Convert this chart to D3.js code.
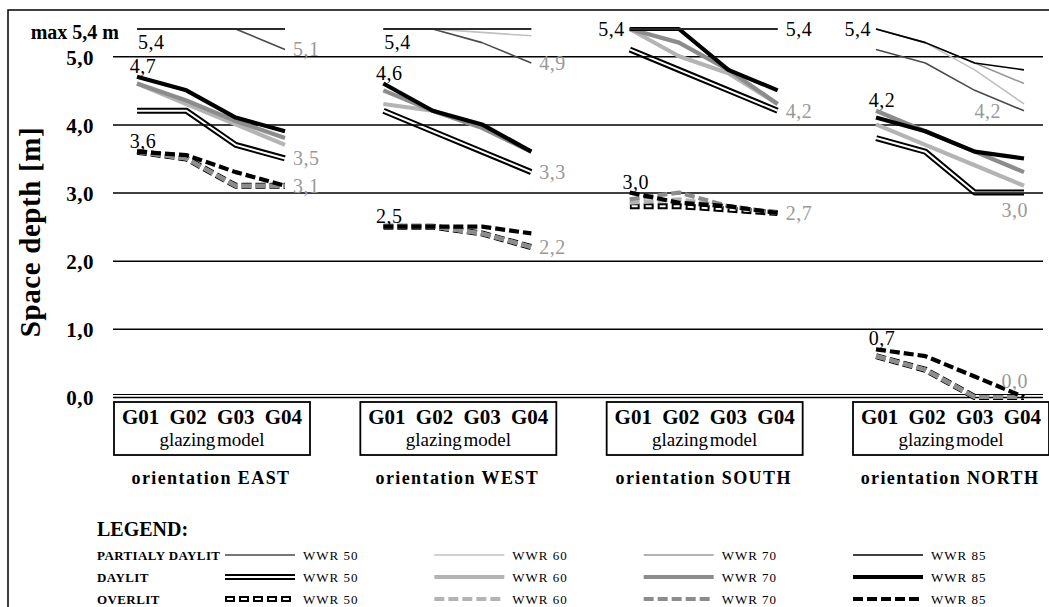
<!DOCTYPE html>
<html>
<head>
<meta charset="utf-8">
<script src="https://cdn.jsdelivr.net/npm/d3@7"></script>
<style>
  body { margin: 0; background: #fff; }
  svg text { font-family: "Liberation Serif", "DejaVu Serif", serif; }
</style>
</head>
<body>
<svg width="1049" height="607"></svg>
<script>
var glazing = ["G01", "G02", "G03", "G04"];
var orientations = ["EAST", "WEST", "SOUTH", "NORTH"];
var wwr = ["50", "60", "70", "85"];
var categories = ["PARTIALY DAYLIT", "DAYLIT", "OVERLIT"];
var yTicks = [0, 1, 2, 3, 4, 5];

// each array: rows = WWR 50, 60, 70, 85 ; columns = G01..G04
var eastPartial = [[5.4, 5.4, 5.4, 5.1], [5.4, 5.4, 5.4, 5.4], [5.4, 5.4, 5.4, 5.4], [5.4, 5.4, 5.4, 5.4]];
var eastDaylit  = [[4.2, 4.2, 3.7, 3.5], [4.6, 4.3, 4.0, 3.7], [4.6, 4.35, 4.05, 3.8], [4.7, 4.5, 4.1, 3.9]];
var eastOver    = [[3.6, 3.5, 3.1, 3.1], [3.6, 3.5, 3.1, 3.1], [3.6, 3.5, 3.1, 3.1], [3.6, 3.55, 3.3, 3.1]];

var westPartial = [[5.4, 5.4, 5.2, 4.9], [5.4, 5.4, 5.35, 5.3], [5.4, 5.4, 5.4, 5.4], [5.4, 5.4, 5.4, 5.4]];
var westDaylit  = [[4.2, 3.9, 3.6, 3.3], [4.3, 4.2, 3.95, 3.6], [4.5, 4.2, 3.95, 3.6], [4.6, 4.2, 4.0, 3.6]];
var westOver    = [[2.5, 2.5, 2.4, 2.2], [2.5, 2.5, 2.4, 2.2], [2.5, 2.5, 2.4, 2.2], [2.5, 2.5, 2.5, 2.4]];

var southPartial = [[5.4, 5.4, 5.4, 5.4], [5.4, 5.4, 5.4, 5.4], [5.4, 5.4, 5.4, 5.4], [5.4, 5.4, 5.4, 5.4]];
var southDaylit  = [[5.1, 4.8, 4.5, 4.2], [5.4, 5.0, 4.75, 4.3], [5.4, 5.2, 4.8, 4.3], [5.4, 5.4, 4.8, 4.5]];
var southOver    = [[2.8, 2.8, 2.75, 2.7], [2.85, 2.9, 2.8, 2.7], [2.9, 3.0, 2.8, 2.7], [3.0, 2.85, 2.8, 2.7]];

var northPartial = [[5.1, 4.9, 4.5, 4.2], [5.4, 5.2, 4.8, 4.3], [5.4, 5.2, 4.9, 4.6], [5.4, 5.2, 4.9, 4.8]];
var northDaylit  = [[3.8, 3.6, 3.0, 3.0], [4.0, 3.7, 3.4, 3.1], [4.2, 3.9, 3.6, 3.3], [4.1, 3.9, 3.6, 3.5]];
var northOver    = [[0.6, 0.4, 0.0, 0.0], [0.6, 0.4, 0.0, 0.0], [0.6, 0.4, 0.0, 0.0], [0.7, 0.6, 0.3, 0.0]];

// value labels: pos says where the number sits next to its line
var eastLabels  = [{v: 5.4, pos: "below", dark: true}, {v: 4.7, pos: "above", dark: true}, {v: 3.6, pos: "above", dark: true},
                   {v: 5.1, pos: "right"}, {v: 3.5, pos: "right"}, {v: 3.1, pos: "right"}];
var westLabels  = [{v: 5.4, pos: "below", dark: true}, {v: 4.6, pos: "above", dark: true}, {v: 2.5, pos: "above", dark: true},
                   {v: 4.9, pos: "right"}, {v: 3.3, pos: "right"}, {v: 2.2, pos: "right"}];
var southLabels = [{v: 5.4, pos: "left", dark: true}, {v: 3.0, pos: "above", dark: true},
                   {v: 5.4, pos: "right", dark: true}, {v: 4.2, pos: "right"}, {v: 2.7, pos: "right"}];
var northLabels = [{v: 5.4, pos: "left", dark: true}, {v: 4.2, pos: "above", dark: true}, {v: 0.7, pos: "above", dark: true},
                   {v: 4.2, pos: "inner"}, {v: 3.0, pos: "under"}, {v: 0.0, pos: "over"}];

var panels = [
  {name: "EAST",  series: [eastPartial, eastDaylit, eastOver],    labels: eastLabels},
  {name: "WEST",  series: [westPartial, westDaylit, westOver],    labels: westLabels},
  {name: "SOUTH", series: [southPartial, southDaylit, southOver], labels: southLabels},
  {name: "NORTH", series: [northPartial, northDaylit, northOver], labels: northLabels}
];

var grays = {"50": "#505050", "60": "#b4b4b4", "70": "#8c8c8c", "85": "#000"};
var grayThin = {"50": "#4a4a4a", "60": "#c0c0c0", "70": "#999", "85": "#000"};
var serif = "Liberation Serif";

var comma = function(v){ return d3.format(".1f")(v).replace(".", ","); };

var svg = d3.select("svg");
var defs = svg.append("defs");
var maskId = 0;

// frame
svg.append("rect")
  .attr("x", 8).attr("y", 10).attr("width", 1100).attr("height", 700)
  .attr("fill", "none").attr("stroke", "#000").attr("stroke-width", 1.5);

var y = d3.scaleLinear().domain([0, 5.4]).range([397, 29]);
var panelX = d3.scalePoint().domain(orientations).range([137, 876]);
var inner = d3.scalePoint().domain(glazing).range([0, 148]);

var gridLeft = 113, gridRight = 1043;

var yAxis = d3.axisLeft(y)
  .tickValues(yTicks)
  .tickSize(-(gridRight - gridLeft))
  .tickPadding(19)
  .tickFormat(comma);

var axisG = svg.append("g")
  .attr("transform", "translate(" + gridLeft + ",0)")
  .call(yAxis)
  .attr("font-family", serif);
axisG.select(".domain").remove();
axisG.selectAll(".tick line").attr("stroke", "#000").attr("stroke-width", 1.5);
// double line on the zero baseline
axisG.selectAll(".tick").filter(function(d){ return d === 0; })
  .append("line").attr("x2", gridRight - gridLeft).attr("y1", -3).attr("y2", -3)
  .attr("stroke", "#000").attr("stroke-width", 1.2);
axisG.selectAll(".tick text")
  .attr("fill", "#000").attr("dy", "0.38em")
  .style("font-size", "21px").style("font-weight", "bold").style("letter-spacing", "0.5px");

svg.append("text")
  .attr("x", 119).attr("y", 39)
  .attr("text-anchor", "end")
  .style("font-size", "20px").style("font-weight", "bold")
  .text("max 5,4 m");

svg.append("text")
  .attr("transform", "translate(40,232) rotate(-90)")
  .attr("text-anchor", "middle")
  .style("font-size", "29px").style("font-weight", "bold").style("letter-spacing", "0.6px")
  .text("Space depth [m]");

// builds the strokes of one series into group sel, d is the path string
function drawSeries(sel, cat, w, d){
  var dashed = cat === 2;
  if (w === "50" && cat > 0) {
    // compound "double" line: black casing, see-through core
    var id = "core" + (maskId++);
    var m = defs.append("mask").attr("id", id)
      .attr("maskUnits", "userSpaceOnUse")
      .attr("x", 0).attr("y", 0).attr("width", 1049).attr("height", 607);
    m.append("path").attr("d", d).attr("fill", "none").attr("stroke", "#fff").attr("stroke-width", 10);
    m.append("path").attr("d", d).attr("fill", "none").attr("stroke", "#000").attr("stroke-width", 2)
      .attr("stroke-dasharray", dashed ? "6,8" : null)
      .attr("stroke-dashoffset", dashed ? -2 : null);
    sel.append("path").attr("d", d).attr("stroke", "#000").attr("stroke-width", 6)
      .attr("stroke-dasharray", dashed ? "10,4" : null)
      .attr("mask", "url(#" + id + ")");
  } else if (cat === 0) {
    sel.append("path").attr("d", d).attr("stroke", grayThin[w]).attr("stroke-width", 1.6);
  } else {
    sel.append("path").attr("d", d).attr("stroke", grays[w]).attr("stroke-width", 4.2)
      .attr("stroke-dasharray", dashed ? "10,4" : null);
  }
}

var drawOrder = [2, 1, 0]; // overlit, daylit, partially daylit

panels.forEach(function(p){
  var px = panelX(p.name);
  var line = d3.line()
    .x(function(d, i){ return px + inner(glazing[i]); })
    .y(function(d){ return y(d); });
  var g = svg.append("g");

  drawOrder.forEach(function(cat){
    p.series[cat].forEach(function(vals, wi){
      var sg = g.append("g").attr("fill", "none").attr("stroke-linejoin", "round");
      drawSeries(sg, cat, wwr[wi], line(vals));
    });
  });

  var x0 = px + inner("G01"), x3 = px + inner("G04");
  g.selectAll(".vlabel")
    .data(p.labels)
    .enter().append("text")
    .attr("class", "vlabel")
    .style("font-size", "20px").style("letter-spacing", "0.5px")
    .attr("fill", function(d){ return d.dark ? "#000" : "#999"; })
    .attr("text-anchor", function(d){
      if (d.pos === "left" || d.pos === "under" || d.pos === "over" || d.pos === "inner") return "end";
      if (d.pos === "above") return "middle";
      return "start";
    })
    .attr("x", function(d){
      if (d.pos === "above") return x0 + 6;
      if (d.pos === "below") return x0 + 1;
      if (d.pos === "left") return x0 - 5;
      if (d.pos === "right") return x3 + 8;
      if (d.pos === "inner") return x3 - 23;
      return x3 + 4;
    })
    .attr("y", function(d){
      var yy = y(d.v);
      if (d.pos === "above") return yy - 4;
      if (d.pos === "below") return yy + 20;
      if (d.pos === "under") return yy + 24;
      if (d.pos === "over") return yy - 9;
      return yy + 7;
    })
    .text(function(d){ return comma(d.v); });

  // glazing model box
  var box = g.append("g").attr("transform", "translate(" + (x0 - 23) + ",402)");
  box.append("rect").attr("width", 196).attr("height", 53)
    .attr("fill", "none").attr("stroke", "#000").attr("stroke-width", 1.8);
  box.append("text").attr("x", 98).attr("y", 22).attr("text-anchor", "middle")
    .style("font-size", "21px").style("font-weight", "bold").style("word-spacing", "5px")
    .text(glazing.join(" "));
  box.append("text").attr("x", 98).attr("y", 44).attr("text-anchor", "middle")
    .style("font-size", "19px").style("word-spacing", "-3px")
    .text("glazing model");

  g.append("text")
    .attr("x", x0 + 74).attr("y", 484)
    .attr("text-anchor", "middle")
    .style("font-size", "18px").style("font-weight", "bold").style("letter-spacing", "1.4px")
    .text("orientation " + p.name);
});

// legend
var legend = svg.append("g");
legend.append("text").attr("x", 97).attr("y", 536)
  .style("font-size", "20px").style("font-weight", "bold")
  .text("LEGEND:");

var rowY = d3.scalePoint().domain(categories).range([555, 599]);
var colX = d3.scalePoint().domain(wwr).range([225, 853]);

categories.forEach(function(c, ci){
  var ry = rowY(c);
  legend.append("text").attr("x", 97).attr("y", ry + 4.5)
    .style("font-size", "13px").style("font-weight", "bold").style("letter-spacing", "0.4px")
    .text(c);
  wwr.forEach(function(w){
    var cx = colX(w);
    var sg = legend.append("g").attr("fill", "none");
    drawSeries(sg, ci, w, "M" + cx + "," + ry + "H" + (cx + 70));
    legend.append("text").attr("x", cx + 78).attr("y", ry + 4.5)
      .style("font-size", "13px").style("letter-spacing", "1px")
      .text("WWR " + w);
  });
});
</script>
</body>
</html>
